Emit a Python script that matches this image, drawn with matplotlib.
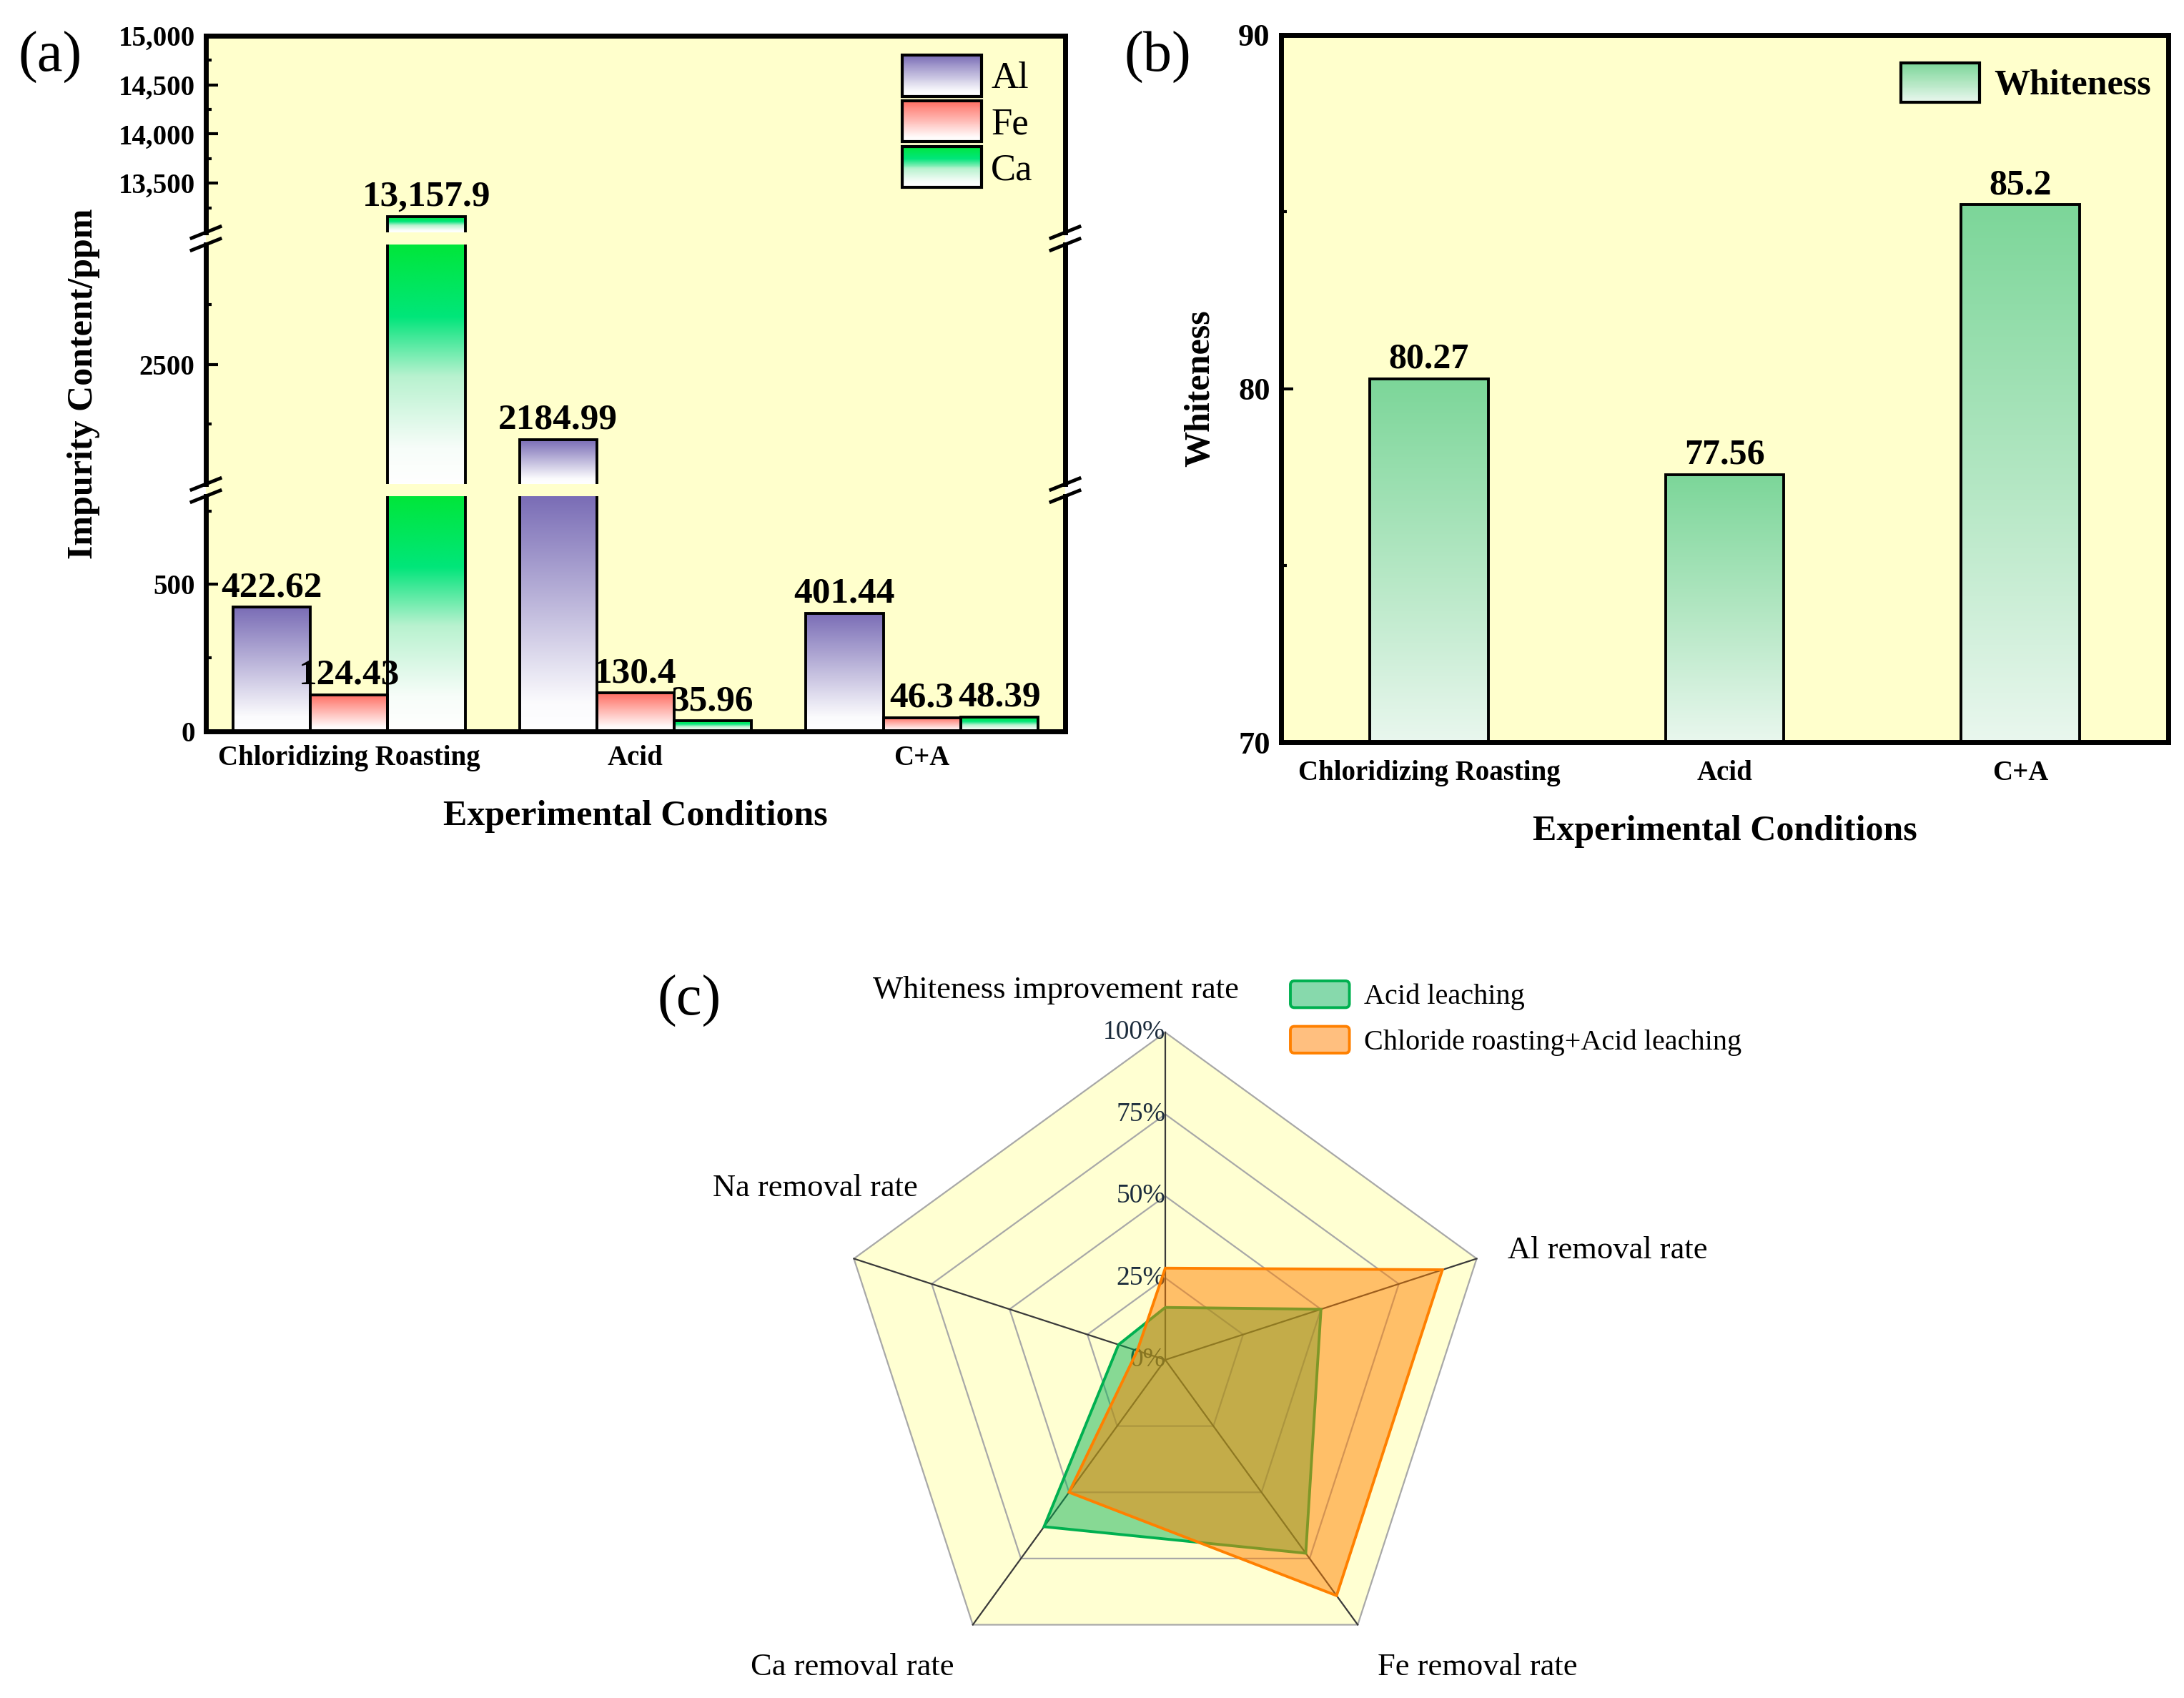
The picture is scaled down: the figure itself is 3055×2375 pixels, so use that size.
import numpy as np
import matplotlib
matplotlib.use('Agg')
import matplotlib.pyplot as plt
from matplotlib.colors import LinearSegmentedColormap, to_rgba
from matplotlib.legend_handler import HandlerBase, HandlerPatch
from matplotlib.patches import Rectangle, FancyBboxPatch, Polygon
from matplotlib.lines import Line2D
from matplotlib.ticker import FixedLocator

plt.rcParams['font.family'] = ['Liberation Serif', 'DejaVu Serif']

# ---------------- data ----------------
categories = ['Chloridizing Roasting', 'Acid', 'C+A']
al_ppm = [422.62, 2184.99, 401.44]
fe_ppm = [124.43, 130.4, 46.3]
ca_ppm = [13157.9, 35.96, 48.39]
series_names = ['Al', 'Fe', 'Ca']

whiteness = [80.27, 77.56, 85.2]

radar_axes = ['Whiteness improvement rate', 'Al removal rate', 'Fe removal rate',
              'Ca removal rate', 'Na removal rate']
acid_leaching = [16, 50, 73, 63, 15]
chloride_acid = [28, 89, 89, 50, 9]
radar_ticks = [0, 25, 50, 75, 100]

# broken-axis segments of panel (a)
seg_limits = [(13000, 15000), (2000, 3000), (0, 800)]
seg_major = [[13500, 14000, 14500, 15000], [2500], [0, 500]]
seg_minor = [[13250, 13750, 14250, 14750], [2250, 2750], [250, 750]]

# ---------------- figure ----------------
W, H, DPI = 3055, 2375, 100
fig = plt.figure(figsize=(W / DPI, H / DPI), dpi=DPI)
fig.patch.set_facecolor('white')


def rect(x0, y0, x1, y1):
    return [x0 / W, 1 - y1 / H, (x1 - x0) / W, (y1 - y0) / H]


YELLOW = '#ffffcc'
cm_al = LinearSegmentedColormap.from_list('al', [(0, '#ffffff'), (0.12, '#fbfbfd'), (1, '#7a6db6')])
cm_fe = LinearSegmentedColormap.from_list('fe', [(0, '#ffffff'), (0.12, '#fffafa'), (1, '#ff6e62')])
cm_ca = LinearSegmentedColormap.from_list('ca', [(0, '#ffffff'), (0.15, '#f7fdf9'), (0.45, '#b8f2cf'),
                                                 (0.62, '#3de896'), (0.70, '#00e67a'), (1, '#00e63a')])
cm_wh = LinearSegmentedColormap.from_list('wh', [(0, '#e9f7ee'), (0.45, '#b7e8c6'), (1, '#7cd699')])
cmaps = [cm_al, cm_fe, cm_ca]


def grad(ax, x0, x1, y0, y1, cmap):
    g = cmap(np.linspace(0, 1, 256))[:, None, :]
    ax.imshow(g, extent=[x0, x1, y0, y1], origin='lower', aspect='auto',
              interpolation='bilinear', zorder=1)


class GradientHandler(HandlerBase):
    def __init__(self, cmap, lw=3, **kw):
        super().__init__(**kw)
        self.cmap = cmap
        self.lw = lw

    def create_artists(self, legend, orig_handle, xdescent, ydescent, width, height, fontsize, trans):
        n = 60
        arts = []
        for i in range(n):
            y0 = -ydescent + height * i / n
            arts.append(Rectangle((-xdescent, y0), width, height / n * 1.05,
                                  facecolor=self.cmap((i + 0.5) / n), edgecolor='none', transform=trans))
        arts.append(Rectangle((-xdescent, -ydescent), width, height, facecolor='none',
                              edgecolor='black', lw=self.lw, transform=trans))
        return arts


def rounded(legend, orig_handle, xdescent, ydescent, width, height, fontsize):
    return FancyBboxPatch((-xdescent, -ydescent), width, height,
                          boxstyle='round,pad=0,rounding_size=%f' % (height * 0.15))


# ================= panel (a) =================
AX0, AX1 = 288, 1490
bg = fig.add_axes(rect(AX0, 50, AX1, 1023))
bg.set_facecolor(YELLOW)
for s in bg.spines.values():
    s.set_visible(False)
bg.set_xticks([])
bg.set_yticks([])
bg.set_zorder(0)

seg_px = [(50, 325), (342, 677), (694, 1023)]
seg_axes = []
for k, ((ya, yb), (lo, hi)) in enumerate(zip(seg_px, seg_limits)):
    ax = fig.add_axes(rect(AX0, ya, AX1, yb))
    ax.set_facecolor('none')
    ax.set_zorder(1)
    seg_axes.append(ax)

bw = 0.27
xs = np.arange(1, len(categories) + 1)
series = [al_ppm, fe_ppm, ca_ppm]
containers = {}
for k, ax in enumerate(seg_axes):
    lo, hi = seg_limits[k]
    for j, vals in enumerate(series):
        xpos = xs + (j - 1) * bw
        for x, v in zip(xpos, vals):
            top = min(v, hi)
            if top > lo:
                grad(ax, x - bw / 2, x + bw / 2, lo, top, cmaps[j])
        bc = ax.bar(xpos, vals, width=bw, facecolor='none', edgecolor='black', linewidth=2.8, zorder=2)
        if k == 0:
            containers[series_names[j]] = bc
        for x, v in zip(xpos, vals):
            if lo <= v <= hi:
                txt = f'{v:,}' if v >= 10000 else str(v)
                ax.annotate(txt, (x, v), xytext=(0, 3), textcoords='offset points',
                            ha='center', va='bottom', fontsize=37, fontweight='bold', zorder=5)
    ax.set_xlim(0.5, 3.5)
    ax.set_ylim(lo, hi)
    ax.yaxis.set_major_locator(FixedLocator(seg_major[k]))
    ax.yaxis.set_minor_locator(FixedLocator(seg_minor[k]))
    if k == 0:
        ax.set_yticklabels([f'{t:,}' for t in seg_major[k]])
    else:
        ax.set_yticklabels([str(t) for t in seg_major[k]])
    ax.tick_params(axis='y', which='major', direction='in', length=12, width=3,
                   labelsize=28, pad=11, right=False)
    ax.tick_params(axis='y', which='minor', direction='in', length=6, width=3, right=False)
    for lab in ax.get_yticklabels():
        lab.set_fontweight('bold')
    ax.spines['left'].set_linewidth(5)
    ax.spines['right'].set_linewidth(5)
    ax.spines['top'].set_linewidth(5)
    ax.spines['bottom'].set_linewidth(5)
    ax.spines['top'].set_visible(k == 0)
    ax.spines['bottom'].set_visible(k == 2)
    if k < 2:
        ax.tick_params(axis='x', bottom=False, labelbottom=False)

bot = seg_axes[2]
bot.set_xticks(xs)
bot.set_xticklabels(categories, fontsize=28, fontweight='bold')
bot.tick_params(axis='x', length=0, pad=14)
bot.set_xlabel('Experimental Conditions', fontsize=36, fontweight='bold')
bot.xaxis.set_label_coords(0.5, -0.362)
bot.xaxis.label.set_verticalalignment('center')

bg.set_ylabel('Impurity Content/ppm', fontsize=36, fontweight='bold')
bg.yaxis.set_label_coords(-0.142, 0.5)
bg.yaxis.label.set_verticalalignment('center')

# break marks on left and right spines
for (ya, yb) in [(325, 342), (677, 694)]:
    for x in (AX0, AX1):
        for y in (ya, yb):
            fig.add_artist(Line2D([(x - 20) / W, (x + 20) / W], [1 - (y + 8) / H, 1 - (y - 8) / H],
                                  color='black', lw=3.5, transform=fig.transFigure))

leg_a = seg_axes[0].legend([containers[n] for n in series_names], series_names,
                           handler_map={containers[n]: GradientHandler(c) for n, c in zip(series_names, cmaps)},
                           loc='upper left', bbox_to_anchor=(1262 / W, 1 - 77 / H),
                           bbox_transform=fig.transFigure, frameon=False, fontsize=38,
                           handlelength=2.1, handleheight=1.3, handletextpad=0.25,
                           labelspacing=0.12, borderpad=0, borderaxespad=0)

fig.text(70 / W, 1 - 80 / H, '(a)', fontsize=58, ha='center', va='center')

# ================= panel (b) =================
axb = fig.add_axes(rect(1792, 49, 3033, 1038))
axb.set_facecolor(YELLOW)
wb = 0.4
for x, v in zip(xs, whiteness):
    grad(axb, x - wb / 2, x + wb / 2, 70, v, cm_wh)
bars_w = axb.bar(xs, whiteness, width=wb, facecolor='none', edgecolor='black', linewidth=2.8, zorder=2)
for x, v in zip(xs, whiteness):
    axb.annotate(str(v), (x, v), xytext=(0, 3), textcoords='offset points',
                 ha='center', va='bottom', fontsize=36, fontweight='bold', zorder=5)
axb.set_xlim(0.5, 3.5)
axb.set_ylim(70, 90)
axb.yaxis.set_major_locator(FixedLocator([70, 80, 90]))
axb.yaxis.set_minor_locator(FixedLocator([75, 85]))
axb.tick_params(axis='y', which='major', direction='in', length=12, width=3, labelsize=32, pad=11, right=False)
axb.tick_params(axis='y', which='minor', direction='in', length=6, width=3, right=False)
for lab in axb.get_yticklabels():
    lab.set_fontweight('bold')
axb.set_xticks(xs)
axb.set_xticklabels(categories, fontsize=28, fontweight='bold')
axb.tick_params(axis='x', length=0, pad=18)
for s in axb.spines.values():
    s.set_linewidth(5)
axb.set_ylabel('Whiteness', fontsize=36, fontweight='bold')
axb.yaxis.set_label_coords(-0.091, 0.5)
axb.yaxis.label.set_verticalalignment('center')
axb.set_xlabel('Experimental Conditions', fontsize=36, fontweight='bold')
axb.xaxis.set_label_coords(0.5, -0.126)
axb.xaxis.label.set_verticalalignment('center')
axb.legend([bars_w], ['Whiteness'], handler_map={bars_w: GradientHandler(cm_wh)},
           loc='upper left', bbox_to_anchor=(2659 / W, 1 - 88 / H), bbox_transform=fig.transFigure,
           frameon=False, prop={'size': 36, 'weight': 'bold'}, handlelength=2.2, handleheight=1.3,
           handletextpad=0.4, borderpad=0, borderaxespad=0)

fig.text(1619 / W, 1 - 80 / H, '(b)', fontsize=58, ha='center', va='center')

# ================= panel (c) radar =================
rad = fig.add_axes(rect(1172, 1444, 2088, 2360), projection='polar')
rad.set_theta_offset(np.pi / 2)
rad.set_theta_direction(-1)
n = len(radar_axes)
angles = np.linspace(0, 2 * np.pi, n, endpoint=False)
closed = np.append(angles, angles[0])
rad.fill(closed, np.ones(n + 1), facecolor='#ffffd2', edgecolor='none', zorder=0)
for r in radar_ticks[1:]:
    rad.plot(closed, [r / 100] * (n + 1), color='#a8a8a8', lw=1.6, zorder=1, clip_on=False)
for a in angles:
    rad.plot([a, a], [0, 1], color='#3a3a3a', lw=1.6, zorder=1.5, clip_on=False)
for r in radar_ticks:
    rad.text(0, r / 100, f'{r}%', ha='right', va='center', fontsize=27, color='#1c2c3c', zorder=1.6)

g_vals = np.append(np.array(acid_leaching) / 100, acid_leaching[0] / 100)
o_vals = np.append(np.array(chloride_acid) / 100, chloride_acid[0] / 100)
g_poly = rad.fill(closed, g_vals, facecolor=to_rgba('#00b050', 0.47), edgecolor='#00b050',
                  lw=2.8, zorder=3, label='Acid leaching')[0]
o_poly = rad.fill(closed, o_vals, facecolor=to_rgba('#ff8000', 0.5), edgecolor='#ff8000',
                  lw=2.8, zorder=4, label='Chloride roasting+Acid leaching')[0]
rad.set_ylim(0, 1)
rad.set_xticks([])
rad.set_yticks([])
rad.grid(False)
rad.spines['polar'].set_visible(False)
rad.patch.set_visible(False)

label_pos = [(0.333, 1.064), (1.175, 0.667), (0.977, 0.031), (0.022, 0.031), (-0.035, 0.762)]
for name, (lx, ly) in zip(radar_axes, label_pos):
    rad.text(lx, ly, name, transform=rad.transAxes, ha='center', va='center', fontsize=32)

rad.legend([g_poly, o_poly], ['Acid leaching', 'Chloride roasting+Acid leaching'],
           handler_map={Polygon: HandlerPatch(patch_func=rounded)},
           loc='upper left', bbox_to_anchor=(1805 / W, 1 - 1372 / H), bbox_transform=fig.transFigure,
           frameon=False, fontsize=29, handlelength=2.05, handleheight=1.05, handletextpad=0.5,
           labelspacing=0.55, borderpad=0, borderaxespad=0)

fig.text(964 / W, 1 - 1400 / H, '(c)', fontsize=58, ha='center', va='center')

fig.savefig('out.png', dpi=DPI)
